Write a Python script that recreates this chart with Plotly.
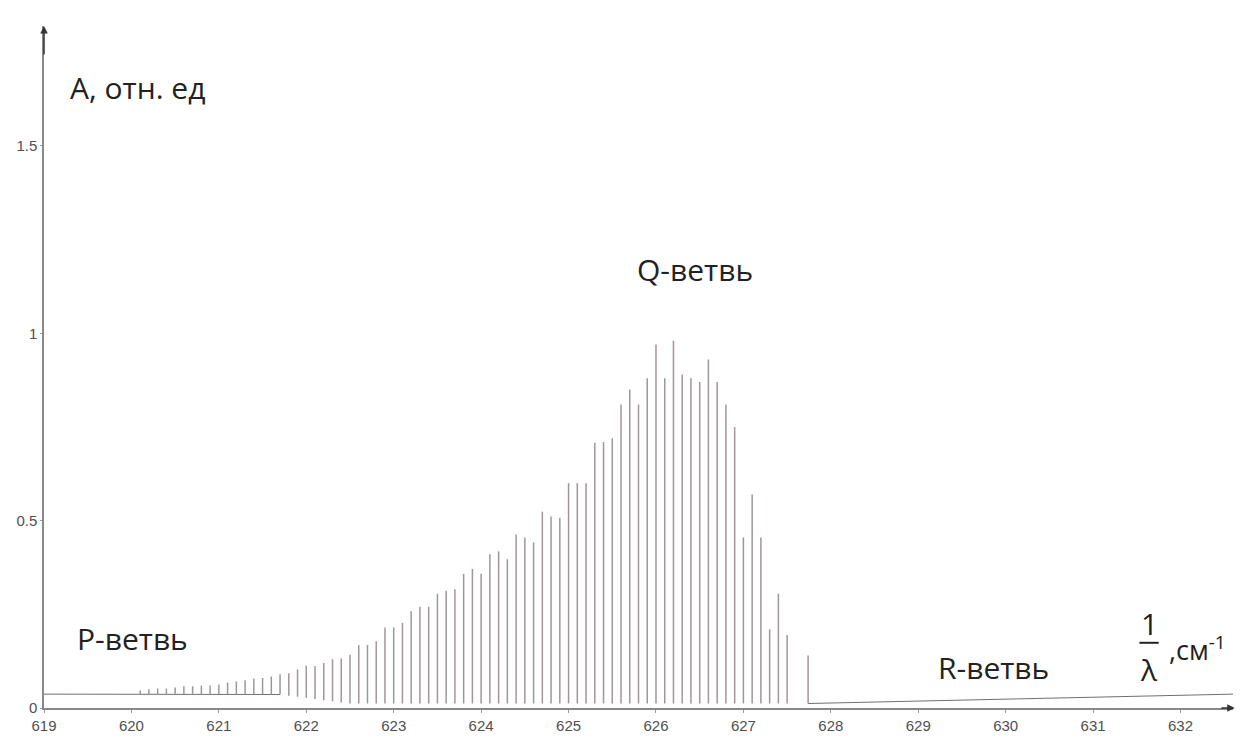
import numpy as np
import plotly.graph_objects as go

# Rotational lines of the band: wavenumber (cm^-1) and relative absorbance
line_x = [
    620.1, 620.2, 620.3, 620.4, 620.5, 620.6, 620.7, 620.8, 620.9, 621.0,
    621.1, 621.2, 621.3, 621.4, 621.5, 621.6, 621.7, 621.8, 621.9, 622.0,
    622.1, 622.2, 622.3, 622.4, 622.5, 622.6, 622.7, 622.8, 622.9, 623.0,
    623.1, 623.2, 623.3, 623.4, 623.5, 623.6, 623.7, 623.8, 623.9, 624.0,
    624.1, 624.2, 624.3, 624.4, 624.5, 624.6, 624.7, 624.8, 624.9, 625.0,
    625.1, 625.2, 625.3, 625.4, 625.5, 625.6, 625.7, 625.8, 625.9, 626.0,
    626.1, 626.2, 626.3, 626.4, 626.5, 626.6, 626.7, 626.8, 626.9, 627.0,
    627.1, 627.2, 627.3, 627.4, 627.5, 627.74,
]
line_a = [
    0.047, 0.050, 0.052, 0.052, 0.055, 0.058, 0.058, 0.060, 0.060, 0.063,
    0.068, 0.071, 0.074, 0.079, 0.080, 0.084, 0.090, 0.093, 0.103, 0.113,
    0.112, 0.120, 0.130, 0.132, 0.142, 0.168, 0.168, 0.178, 0.215, 0.215,
    0.227, 0.258, 0.270, 0.270, 0.305, 0.313, 0.317, 0.358, 0.371, 0.358,
    0.410, 0.418, 0.397, 0.463, 0.455, 0.442, 0.524, 0.511, 0.508, 0.600,
    0.600, 0.600, 0.708, 0.710, 0.720, 0.810, 0.850, 0.810, 0.880, 0.970,
    0.880, 0.980, 0.890, 0.880, 0.870, 0.930, 0.870, 0.810, 0.750, 0.455,
    0.570, 0.455, 0.210, 0.305, 0.195, 0.140,
]

# Background level of the recorded trace on the P side and on the R side
p_base_x = [619.0, 621.7]
p_base_y = [0.037, 0.036]
r_base_x = [627.74, 632.6]
r_base_y = [0.012, 0.037]
# lower end of the line contours along the band
floor_x = [619.0, 621.7, 622.5, 627.74]
floor_y = [0.037, 0.036, 0.012, 0.012]

x_ticks = list(range(619, 633))
y_ticks = [0, 0.5, 1, 1.5]
y_tick_text = ["0", "0.5", "1", "1.5"]

floor = np.interp(line_x, floor_x, floor_y)
stick_x, stick_y = [], []
for xv, f, a in zip(line_x, floor, line_a):
    stick_x += [xv, xv, None]
    stick_y += [float(f), a, None]

fig = go.Figure()
fig.add_trace(go.Scatter(
    x=p_base_x, y=p_base_y, mode="lines",
    line=dict(color="#707070", width=1), hoverinfo="skip", showlegend=False,
))
fig.add_trace(go.Scatter(
    x=r_base_x, y=r_base_y, mode="lines",
    line=dict(color="#707070", width=1), hoverinfo="skip", showlegend=False,
))
fig.add_trace(go.Scatter(
    x=stick_x, y=stick_y, mode="lines",
    line=dict(color="#a3949b", width=1.5), showlegend=False,
))

label_font = dict(family="Open Sans", size=30, color="#222222")
fig.add_annotation(x=619.27, y=1.655, text="A, отн. ед", showarrow=False,
                   xanchor="left", yanchor="middle", font=label_font)
fig.add_annotation(x=626.45, y=1.17, text="Q-ветвь", showarrow=False,
                   xanchor="center", yanchor="middle", font=label_font)
fig.add_annotation(x=619.36, y=0.186, text="P-ветвь", showarrow=False,
                   xanchor="left", yanchor="middle", font=label_font)
fig.add_annotation(x=629.2, y=0.107, text="R-ветвь", showarrow=False,
                   xanchor="left", yanchor="middle", font=label_font)

# Axis unit: 1/λ, см^-1
fig.add_annotation(x=631.64, y=0.225, text="1", showarrow=False,
                   xanchor="center", yanchor="middle", font=label_font)
fig.add_annotation(x=631.64, y=0.103, text="λ", showarrow=False,
                   xanchor="center", yanchor="middle", font=label_font)
fig.add_shape(type="line", x0=631.53, x1=631.75, y0=0.174, y1=0.174,
              line=dict(color="#222222", width=2))
fig.add_annotation(x=631.84, y=0.158, text=",см<sup>-1</sup>", showarrow=False,
                   xanchor="left", yanchor="middle",
                   font=dict(family="Open Sans", size=27, color="#222222"))

# Arrow heads on the axes
fig.add_annotation(x=619.0, y=1.82, ax=619.0, ay=1.74, axref="x", ayref="y",
                   text="", showarrow=True, arrowhead=2, arrowsize=1,
                   arrowwidth=1.5, arrowcolor="#333333")
fig.add_annotation(x=632.62, y=0.0, ax=632.45, ay=0.0, axref="x", ayref="y",
                   text="", showarrow=True, arrowhead=2, arrowsize=1,
                   arrowwidth=1.5, arrowcolor="#333333")

tick_font = dict(family="Liberation Sans", size=15, color="#505050")
fig.update_xaxes(
    range=[619, 632.6], tickvals=x_ticks, ticktext=[str(v) for v in x_ticks],
    showline=True, linecolor="#888888", linewidth=1.5, showgrid=False,
    zeroline=False, ticks="outside", ticklen=3, tickcolor="#999999",
    tickfont=tick_font,
)
fig.update_yaxes(
    range=[0, 1.82], tickvals=y_ticks, ticktext=y_tick_text,
    showline=True, linecolor="#888888", linewidth=1.5, showgrid=False,
    zeroline=False, ticks="outside", ticklen=2, tickcolor="#999999",
    tickfont=tick_font,
)
fig.update_layout(
    width=1242, height=743,
    margin=dict(l=44, r=9, t=26, b=26),
    paper_bgcolor="white", plot_bgcolor="white",
)

fig.write_html("out.html")
